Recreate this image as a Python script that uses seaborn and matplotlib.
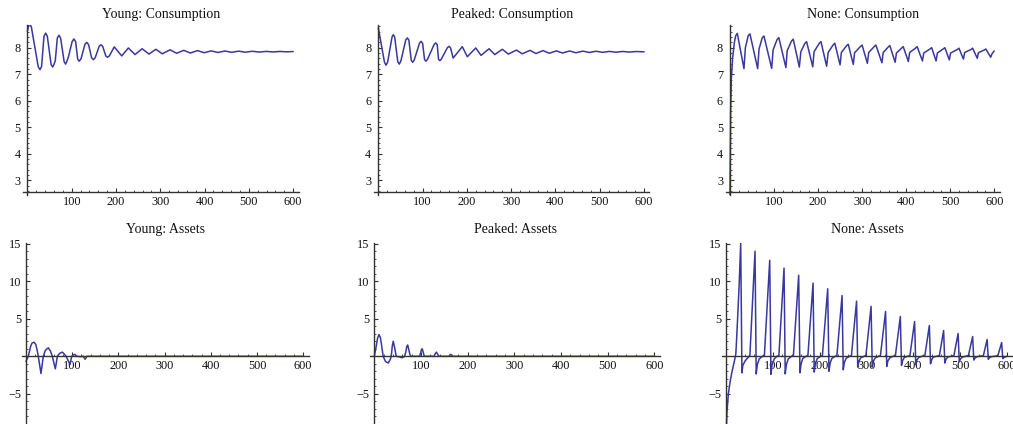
import matplotlib
matplotlib.use("Agg")
import matplotlib.pyplot as plt
import seaborn as sns
import pandas as pd
from matplotlib.ticker import MultipleLocator, FixedLocator

# ---------------- data (vertices) ----------------
young_cons_x = [0, 3, 5.9, 9, 24.5, 28.4, 32, 37.5, 41.3, 45, 53.5, 57, 60, 63, 67.5, 71.3, 75,
                83, 86.4, 89, 92.4, 101, 105, 109, 113.5, 117, 121, 130, 134, 138, 145, 149,
                153, 162, 166, 170, 177, 181, 185, 196,
                213, 228, 243, 259, 274.5, 290, 304.5, 322, 337, 353, 368, 384, 399, 415,
                430, 446, 461, 477, 492, 508, 523, 539, 554, 570, 585, 600]
young_cons_y = [8.62, 8.84, 8.89, 8.78, 7.28, 7.17, 7.29, 8.43, 8.55, 8.43, 7.37, 7.27, 7.37,
                7.51, 8.36, 8.47, 8.36, 7.47, 7.38, 7.48, 7.64, 8.23, 8.33, 8.22, 7.57, 7.49,
                7.58, 8.13, 8.20, 8.12, 7.62, 7.55, 7.62, 8.05, 8.11, 8.05, 7.69, 7.64, 7.69,
                8.03, 7.69, 7.99, 7.74, 7.96, 7.76, 7.94, 7.77, 7.92, 7.79, 7.90, 7.80,
                7.89, 7.81, 7.88, 7.82, 7.875, 7.825, 7.87, 7.83, 7.865, 7.835, 7.86, 7.84,
                7.858, 7.845, 7.855]

peaked_cons_x = [0, 14, 17.4, 21, 31, 34, 37, 44, 47.4, 51, 62, 65.5, 69, 74.5, 77.6, 81,
                 93, 96.4, 100, 104.5, 107.7, 111, 126, 129.5, 133, 136, 139, 142, 156, 159.6,
                 163, 169, 189.6, 201, 220, 232, 250, 263, 280, 293.5, 312, 325, 342.5, 356,
                 372, 386, 402, 416, 432, 446, 462, 476, 492, 506, 522, 536, 552, 566, 582,
                 600]
peaked_cons_y = [8.75, 7.45, 7.34, 7.45, 8.40, 8.49, 8.40, 7.47, 7.38, 7.50, 8.29, 8.37, 8.29,
                 7.52, 7.45, 7.53, 8.17, 8.24, 8.17, 7.55, 7.49, 7.56, 8.12, 8.18, 8.12,
                 7.56, 7.51, 7.56, 8.0, 8.05, 8.0, 7.61, 8.04, 7.66, 7.99, 7.71, 7.96, 7.74,
                 7.94, 7.76, 7.91, 7.77, 7.90, 7.78, 7.89, 7.79, 7.88, 7.80, 7.875, 7.81,
                 7.87, 7.82, 7.865, 7.825, 7.86, 7.83, 7.858, 7.835, 7.855, 7.845]

none_cons_x = [0, 1.5, 3, 6, 10, 13, 16.6,
               31.8, 35, 41.4, 45.4, 62.9, 66, 73.2, 77.2, 94.7, 98, 107, 111,
               127, 130, 139.7, 143.7, 157.5, 161, 170, 174, 188, 191, 202.6, 206.6,
               219.5, 223, 234, 238, 250, 253, 264.6, 268.6, 280, 283, 296, 300,
               312, 315, 327.4, 331.4, 345, 348, 359, 363, 375, 378, 389.4, 393.4,
               405, 408, 421, 425, 437, 440, 454, 458, 468, 471, 484, 488,
               498, 501, 516, 520, 530, 533, 547, 551, 561.5, 564, 577, 581,
               592, 595, 600]
none_cons_y = [2.4, 5.5, 6.8, 7.6, 8.2, 8.45, 8.54,
               7.21, 8.00, 8.45, 8.52, 7.21, 7.95, 8.37, 8.44, 7.22, 7.92, 8.31, 8.38,
               7.25, 7.89, 8.25, 8.32, 7.27, 7.85, 8.16, 8.23, 7.28, 7.85, 8.16, 8.23,
               7.30, 7.82, 8.10, 8.17, 7.35, 7.82, 8.07, 8.13, 7.37, 7.81, 8.04, 8.10,
               7.41, 7.82, 8.04, 8.10, 7.43, 7.82, 8.02, 8.08, 7.45, 7.80, 7.98, 8.04,
               7.48, 7.82, 7.98, 8.04, 7.50, 7.80, 7.95, 8.00, 7.50, 7.80, 7.95, 8.00,
               7.54, 7.80, 7.93, 7.98, 7.57, 7.82, 7.93, 7.98, 7.60, 7.81, 7.91, 7.95,
               7.64, 7.77, 7.88]

young_assets_x = [0, 5, 10, 13, 17.4, 21, 24, 26.7, 32.5, 37.5, 42, 48.4, 53, 57, 63.6, 68,
                  73, 78.8, 83, 86.8, 95.4, 99, 103, 106, 110, 118, 124, 128, 132, 140, 600]
young_assets_y = [-0.7, 0, 1.3, 1.75, 1.88, 1.6, 0.9, 0, -2.3, 0, 0.8, 1.13, 0.7, 0, -1.67, 0,
                  0.4, 0.55, 0.3, 0, -1.1, 0, 0.2, 0.25, 0, -0.05, 0, -0.4, 0, 0, 0]

peaked_assets_x = [0, 4, 7, 10, 13, 16, 19, 24, 30, 35, 37, 38.5, 40.6, 43, 47, 52, 60, 65,
                   67.5, 69.5, 71.4, 73.5, 76, 78, 97, 99, 101, 102.6, 104.5, 107, 128, 130.5,
                   133, 135.5, 138, 160, 162, 164, 166, 168, 600]
peaked_assets_y = [0, 1.3, 2.4, 2.9, 2.5, 1.3, 0, -0.7, -0.9, -0.3, 0.4, 1.4, 2.0, 1.3, 0,
                   -0.05, -0.2, 0, 0.6, 1.3, 1.5, 1.0, 0.3, 0, 0, 0.4, 0.9, 1.0, 0.6, 0, 0,
                   0.35, 0.55, 0.3, 0, 0, 0.15, 0.25, 0.15, 0, 0]

none_assets_x = [0, 2, 5, 9, 13, 17, 21, 24, 28, 31.4, 34, 36, 41, 48,
                 51, 62, 64.5, 67, 71, 78,
                 82, 93.4, 96, 98.5, 103, 109,
                 113, 124, 126.5, 129, 133, 140,
                 144, 155.3, 158, 160.5, 164, 171,
                 175, 186, 188.5, 191, 195, 202,
                 206, 217.3, 220, 222.5, 226, 233,
                 237, 248, 250.5, 253, 257, 264,
                 268, 279, 281.5, 284, 288, 295,
                 299, 310, 312.5, 315, 319, 326,
                 330, 341, 343.5, 346, 350, 357,
                 362, 372.5, 375, 377.5, 381, 388,
                 393, 403, 405.5, 408, 412, 419,
                 425, 434.5, 437, 439.5, 443, 450,
                 456, 465, 467.5, 470, 474, 481,
                 487, 496, 498.5, 501, 505, 512,
                 518, 527, 529.5, 532, 536, 543,
                 550, 558, 560.5, 563, 567, 574,
                 581, 589, 591.5, 594, 598, 600]
none_assets_y = [-11, -7.5, -5, -3.3, -2.0, -0.9, 0.3, 4.0, 9.4, 15.1, -2.2, -1.2, -0.6, -0.1,
                 0.1, 14.0, -2.35, -1.1, -0.35, 0,
                 0.1, 12.8, -2.4, -1.1, -0.35, 0,
                 0.1, 11.75, -2.35, -1.1, -0.35, 0,
                 0.1, 10.8, -2.2, -1.0, -0.3, 0,
                 0.1, 9.75, -2.1, -1.0, -0.3, 0,
                 0.1, 9.0, -2.0, -0.9, -0.3, 0,
                 0.1, 8.1, -1.8, -0.8, -0.25, 0,
                 0.1, 7.35, -1.45, -0.65, -0.2, 0,
                 0.1, 6.65, -1.45, -0.65, -0.2, 0,
                 0.1, 5.97, -1.35, -0.6, -0.2, 0,
                 0.1, 5.3, -1.2, -0.55, -0.15, 0,
                 0.1, 4.63, -1.1, -0.5, -0.15, 0,
                 0.1, 4.1, -1.0, -0.45, -0.1, 0,
                 0.1, 3.43, -0.9, -0.4, -0.1, 0,
                 0.1, 3.03, -0.75, -0.35, -0.1, 0,
                 0.1, 2.63, -0.5, -0.25, -0.05, 0,
                 0.1, 2.23, -0.4, -0.2, -0.05, 0,
                 0.1, 1.83, -0.3, -0.15, -0.05, 0]

titles = ["Young: Consumption", "Peaked: Consumption", "None: Consumption",
          "Young: Assets", "Peaked: Assets", "None: Assets"]
x_ticks = [100, 200, 300, 400, 500, 600]
cons_y_ticks = [3, 4, 5, 6, 7, 8]
assets_y_ticks = [-5, 5, 10, 15]

# ---------------- style ----------------
sns.set_theme(style="white")
plt.rcParams["font.family"] = ["Liberation Serif", "DejaVu Serif"]
plt.rcParams["axes.unicode_minus"] = True

W, H = 1013, 424
fig = plt.figure(figsize=(W / 100, H / 100), dpi=100)
fig.patch.set_facecolor("white")

LINE = "#3838a0"
AXC = "#333333"

# pixel rects: (left, top, width, height)
rects = [
    (23.4, 24.9, 275.1, 169.9),
    (374.3, 24.9, 275.1, 169.9),
    (726.0, 24.9, 273.5, 169.9),
    (21.8, 243.0, 286.9, 180.8),
    (370.1, 243.0, 290.0, 180.8),
    (721.8, 243.0, 290.6, 180.8),
]

series = [
    (young_cons_x, young_cons_y),
    (peaked_cons_x, peaked_cons_y),
    (none_cons_x, none_cons_y),
    (young_assets_x, young_assets_y),
    (peaked_assets_x, peaked_assets_y),
    (none_assets_x, none_assets_y),
]

for i, ((l, t, w, h), (xs, ys), title) in enumerate(zip(rects, series, titles)):
    ax = fig.add_axes([l / W, 1 - (t + h) / H, w / W, h / H])
    ax.set_facecolor("white")
    df = pd.DataFrame({"x": xs, "y": ys})
    sns.lineplot(data=df, x="x", y="y", ax=ax, color=LINE, linewidth=1.1,
                 sort=False, estimator=None)
    ax.set_xlabel("")
    ax.set_ylabel("")
    ax.set_xlim(-9, 612)
    cons = i < 3
    if cons:
        ax.set_ylim(2.45, 8.86)
        ax.spines["bottom"].set_position(("data", 2.56))
        ax.yaxis.set_major_locator(FixedLocator(cons_y_ticks))
        ax.yaxis.set_minor_locator(MultipleLocator(0.2))
        ypad = 5
    else:
        ax.set_ylim(-9.0, 15.1)
        ax.spines["bottom"].set_position(("data", 0))
        ax.yaxis.set_major_locator(FixedLocator(assets_y_ticks))
        ax.yaxis.set_minor_locator(MultipleLocator(1))
        ypad = 3.5
    ax.spines["left"].set_position(("data", 0))
    ax.xaxis.set_major_locator(FixedLocator(x_ticks))
    ax.xaxis.set_minor_locator(MultipleLocator(20))
    for s in ["top", "right"]:
        ax.spines[s].set_visible(False)
    for s in ["left", "bottom"]:
        ax.spines[s].set_visible(True)
        ax.spines[s].set_color(AXC)
        ax.spines[s].set_linewidth(1.0)
    ax.tick_params(axis="both", which="major", direction="in", length=3.0, width=0.8,
                   color=AXC, labelsize=8.8, labelcolor="#111111")
    ax.tick_params(axis="both", which="minor", direction="in", length=1.6, width=0.6,
                   color=AXC)
    ax.tick_params(axis="x", which="both", bottom=True, top=False, pad=3)
    ax.tick_params(axis="y", which="both", left=True, right=False, pad=ypad)
    ax.grid(False)
    dy = 10 if cons else 13
    ax.text(0.5, 1 + dy / h, title, transform=ax.transAxes, ha="center", va="center",
            fontsize=10, color="#111111")

fig.savefig("out.png", dpi=100, facecolor="white")
